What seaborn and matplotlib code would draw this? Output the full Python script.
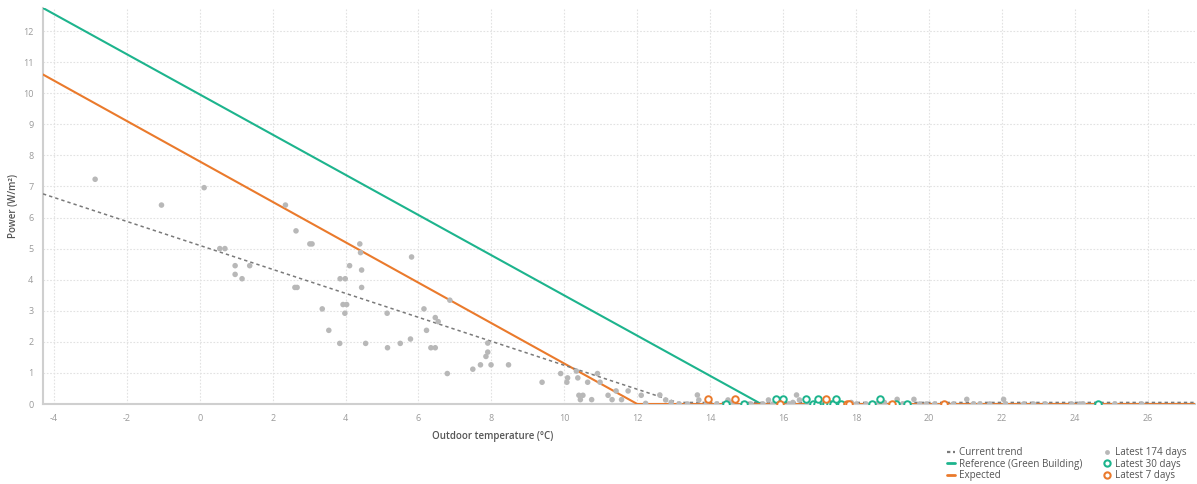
import matplotlib
matplotlib.use("Agg")
import matplotlib.pyplot as plt
from matplotlib.lines import Line2D
import seaborn as sns
import pandas as pd

# ---- data -------------------------------------------------------------
# Daily points, latest 174 days: outdoor temperature (°C) and power (W/m²)
days174_temp = [
    -2.87, -1.05, 0.12, 0.55, 0.69, 0.97, 0.97, 1.16, 1.37, 2.35, 2.64, 2.61,
    2.67, 3.02, 3.08, 3.36, 3.54, 3.84, 3.85, 3.99, 3.93, 4.03, 3.98, 4.11,
    4.39, 4.41, 4.44, 4.44, 4.55, 5.14, 5.15, 5.50, 5.78, 5.81, 6.15, 6.22,
    6.34, 6.46, 6.46, 6.54, 6.86, 6.79, 7.49, 7.70, 7.90, 7.90, 7.85, 7.99,
    8.47, 9.39, 9.90, 10.09, 10.07, 10.37, 10.33, 10.64, 10.91, 10.98, 10.40,
    10.51, 10.44, 10.75, 11.20, 11.31, 11.42, 11.57, 11.75, 12.11, 12.23,
    12.62, 12.78, 12.93, 13.15, 13.38, 13.65, 13.69, 13.90, 14.18, 14.49,
    14.61, 14.72, 15.12, 15.45, 15.60, 15.72, 16.17, 16.27, 16.37, 16.45,
    16.67, 17.07, 17.47, 17.87, 18.01, 18.28, 18.57, 18.78, 19.13, 19.28,
    19.59, 19.75, 19.93, 20.16, 20.67, 21.04, 21.22, 21.40, 21.67, 22.05,
    22.10, 22.60, 22.87, 23.20, 23.92, 24.14, 24.23, 25.10, 25.84,
]
days174_power = [
    7.23, 6.40, 6.96, 5.00, 5.00, 4.45, 4.17, 4.03, 4.45, 6.40, 5.57, 3.75,
    3.75, 5.15, 5.15, 3.06, 2.37, 1.95, 4.03, 4.03, 3.20, 3.20, 2.92, 4.45,
    5.15, 4.87, 4.31, 3.75, 1.95, 2.92, 1.81, 1.95, 2.09, 4.73, 3.06, 2.37,
    1.81, 1.81, 2.78, 2.65, 3.34, 0.98, 1.12, 1.26, 1.96, 1.67, 1.53, 1.26,
    1.26, 0.70, 0.98, 0.84, 0.70, 0.84, 1.06, 0.70, 0.98, 0.70, 0.28,
    0.28, 0.14, 0.14, 0.28, 0.14, 0.42, 0.14, 0.42, 0.28, 0.02,
    0.29, 0.13, 0.05, 0.00, 0.00, 0.29, 0.13, 0.00, 0.00, 0.13,
    0.05, 0.13, 0.00, 0.00, 0.13, 0.00, 0.00, 0.05, 0.29, 0.13,
    0.00, 0.05, 0.00, 0.05, 0.00, 0.00, 0.00, 0.05, 0.15, 0.00,
    0.15, 0.00, 0.00, 0.00, 0.00, 0.15, 0.00, 0.00, 0.00, 0.15,
    0.00, 0.00, 0.00, 0.00, 0.00, 0.00, 0.00, 0.00, 0.00,
]

# Latest 30 days
days30_temp = [14.43, 14.93, 15.81, 15.99, 16.63, 16.83, 16.92, 16.97, 17.19,
               17.28, 17.36, 17.44, 17.60, 18.45, 18.66, 19.11, 19.39, 24.63]
days30_power = [0.00, 0.00, 0.15, 0.15, 0.15, 0.00, 0.00, 0.15, 0.00,
                0.00, 0.00, 0.15, 0.00, 0.00, 0.15, 0.00, 0.00, 0.00]

# Latest 7 days
days7_temp = [13.95, 14.68, 15.92, 17.17, 17.75, 17.82, 19.00, 20.42]
days7_power = [0.15, 0.15, 0.00, 0.15, 0.00, 0.00, 0.00, 0.00]

# Reference curves (breakpoints)
trend_temp = [-4.3, 13.1, 27.3]
trend_power = [6.76, 0.05, 0.05]
reference_temp = [-4.3, 15.4, 27.3]
reference_power = [12.74, 0.0, 0.0]
expected_temp = [-4.3, 12.0, 27.3]
expected_power = [10.6, 0.0, 0.0]

x_ticks = [-4, -2, 0, 2, 4, 6, 8, 10, 12, 14, 16, 18, 20, 22, 24, 26]
y_ticks = [0, 1, 2, 3, 4, 5, 6, 7, 8, 9, 10, 11, 12]

# ---- style ------------------------------------------------------------
GREEN = "#1db48d"
ORANGE = "#ea7a2c"
DOT_GREY = "#b8b8b8"
TREND_GREY = "#7a7a7a"
TEXT = "#555555"
TICK_TEXT = "#9a9a9a"
GRID = "#e2e2e2"
AXIS = "#cfcfcf"

sns.set_theme(style="white")
plt.rcParams["font.family"] = ["Open Sans", "DejaVu Sans"]

W, H = 1197, 484
fig = plt.figure(figsize=(W / 100, H / 100), dpi=100)
ax = fig.add_axes([43 / W, (H - 404) / H, (1195 - 43) / W, (404 - 8) / H])

df174 = pd.DataFrame({"temp": days174_temp, "power": days174_power})
df30 = pd.DataFrame({"temp": days30_temp, "power": days30_power})
df7 = pd.DataFrame({"temp": days7_temp, "power": days7_power})
df_trend = pd.DataFrame({"temp": trend_temp, "power": trend_power})
df_ref = pd.DataFrame({"temp": reference_temp, "power": reference_power})
df_exp = pd.DataFrame({"temp": expected_temp, "power": expected_power})

sns.lineplot(data=df_ref, x="temp", y="power", color=GREEN, lw=1.5,
             sort=False, estimator=None, ax=ax, zorder=3)
sns.lineplot(data=df_exp, x="temp", y="power", color=ORANGE, lw=1.5,
             sort=False, estimator=None, ax=ax, zorder=3)
sns.lineplot(data=df_trend, x="temp", y="power", color=TREND_GREY, lw=1.1,
             sort=False, estimator=None, ax=ax, zorder=4, dashes=False,
             linestyle=(0, (2.2, 2.0)))

sns.scatterplot(data=df174, x="temp", y="power", color=DOT_GREY, s=16,
                edgecolor="none", ax=ax, zorder=5)
sns.scatterplot(data=df30, x="temp", y="power", facecolor="white",
                edgecolor=GREEN, linewidth=1.4, s=22, ax=ax, zorder=6)
sns.scatterplot(data=df7, x="temp", y="power", facecolor="white",
                edgecolor=ORANGE, linewidth=1.4, s=22, ax=ax, zorder=7)

ax.set_xlim(-4.3, 27.3)
ax.set_ylim(0, 12.74)
ax.set_xticks(x_ticks)
ax.set_yticks(y_ticks)
ax.set_xticklabels([str(t) for t in x_ticks])
ax.set_yticklabels([str(t) for t in y_ticks])
ax.tick_params(axis="both", labelsize=6.5, labelcolor=TICK_TEXT, colors=AXIS,
               length=4, width=0.8, pad=3, direction="out")
ax.tick_params(axis="x", length=3, pad=4)
ax.grid(True, color=GRID, linestyle=(0, (1.5, 1.5)), linewidth=0.8)
ax.set_axisbelow(True)
for side in ("top", "right"):
    ax.spines[side].set_visible(False)
for side in ("left", "bottom"):
    ax.spines[side].set_color(AXIS)
    ax.spines[side].set_linewidth(1.5)

ax.set_xlabel("")
ax.set_ylabel("")
fig.text(14 / W, 1 - 206 / H, "Power (W/m²)", rotation=90, ha="center",
         va="center", fontsize=7, color=TEXT, fontweight="semibold")
fig.text(432 / W, 1 - 437 / H, "Outdoor temperature (°C)", ha="left",
         va="center", fontsize=7, color=TEXT, fontweight="semibold")

handles = [
    Line2D([], [], color=TREND_GREY, lw=1.6, linestyle=(0, (1.5, 1.2))),
    Line2D([], [], color=GREEN, lw=2),
    Line2D([], [], color=ORANGE, lw=2),
    Line2D([], [], color=DOT_GREY, marker="o", linestyle="none", markersize=3.5,
           markeredgecolor="none"),
    Line2D([], [], color=GREEN, marker="o", linestyle="none", markersize=4.5,
           markerfacecolor="white", markeredgewidth=1.5),
    Line2D([], [], color=ORANGE, marker="o", linestyle="none", markersize=4.5,
           markerfacecolor="white", markeredgewidth=1.5),
]
labels = ["Current trend", "Reference (Green Building)", "Expected",
          "Latest 174 days", "Latest 30 days", "Latest 7 days"]
leg = fig.legend(handles, labels, ncol=2, frameon=False, fontsize=7.1,
                 loc="upper right", bbox_to_anchor=(1187 / W, 1 - 447 / H),
                 handlelength=0.8, handletextpad=0.5, columnspacing=2.0,
                 labelspacing=0.06, borderaxespad=0, borderpad=0)
for t in leg.get_texts():
    t.set_color(TEXT)

fig.savefig("out.png", dpi=100, facecolor="white")
